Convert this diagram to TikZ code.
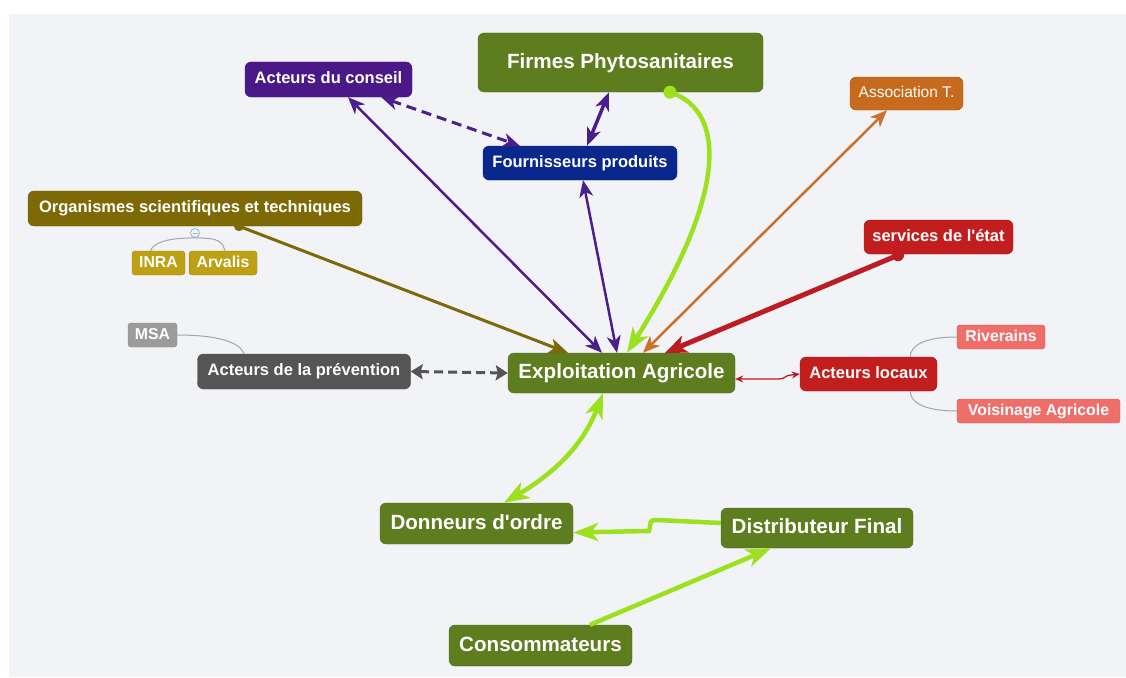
\documentclass[tikz,border=0pt]{standalone}
\usepackage{fontspec}
\setmainfont{Liberation Sans}[Ligatures=TeXOff]
\usetikzlibrary{arrows.meta,calc}
\definecolor{cbg}{HTML}{F2F3F7}
\definecolor{cgreen}{HTML}{5E7D1E}
\definecolor{clime}{HTML}{9BE11E}
\definecolor{cpurple}{HTML}{4B1987}
\definecolor{cpline}{HTML}{4A1E8C}
\definecolor{cnavy}{HTML}{0A288C}
\definecolor{colive}{HTML}{7D6905}
\definecolor{cgold}{HTML}{BEA014}
\definecolor{corange}{HTML}{C86A1E}
\definecolor{cred}{HTML}{C31E1E}
\definecolor{credline}{HTML}{BC1C24}
\definecolor{csalmon}{HTML}{F06E69}
\definecolor{cdgrey}{HTML}{555555}
\definecolor{clgrey}{HTML}{9B9B9B}
\definecolor{cthin}{HTML}{A0A6B2}
\definecolor{ccoll}{HTML}{9AB0D8}
\tikzset{
  box/.style={rectangle, rounded corners=6pt, inner sep=0pt, text=white, align=center},
  big/.style={box, font=\fontsize{20.6}{24}\selectfont\bfseries, text height=15.5pt, text depth=4.5pt},
  med/.style={box, font=\fontsize{16.5}{20}\selectfont\bfseries, text height=12.4pt, text depth=3.6pt},
  small/.style={box, rounded corners=3pt, font=\fontsize{15.8}{19}\selectfont\bfseries, text height=11.8pt, text depth=3.4pt},
  thin/.style={draw=cthin, line width=1pt},
}
\begin{document}
\begin{tikzpicture}[x=1pt,y=-1pt]
\useasboundingbox (0,0) rectangle (1126,677);
\fill[white] (0,0) rectangle (1126,677);
\fill[cbg] (9,14) rectangle (1126,677);

% nodes
\node[big, fill=cgreen, draw=cgreen!85!black, minimum width=285pt, minimum height=59pt] (firmes) at (620.5,62.5) {Firmes Phytosanitaires};
\node[med, fill=cpurple, draw=cpurple!85!black, minimum width=167pt, minimum height=35pt] (conseil) at (328.5,79.5) {Acteurs du conseil};
\node[box, font=\fontsize{15.5}{19}\selectfont, text height=11.6pt, text depth=3.4pt, fill=corange, draw=corange!85!black, minimum width=113pt, minimum height=33pt] (assoc) at (906.5,93.5) {Association T.};
\node[med, fill=cnavy, draw=cnavy!85!black, minimum width=194pt, minimum height=34pt] (four) at (580,163) {Fournisseurs produits};
\node[med, fill=colive, draw=colive!85!black, minimum width=334pt, minimum height=35pt] (org) at (195,208.5) {Organismes scientifiques et techniques};
\node[small, fill=cgold, draw=cgold!85!black, minimum width=53pt, minimum height=24pt] (inra) at (158.5,263) {INRA};
\node[small, fill=cgold, draw=cgold!85!black, minimum width=68pt, minimum height=24pt] (arv) at (223,263) {Arvalis};
\node[med, fill=cred, draw=cred!85!black, minimum width=149pt, minimum height=34pt] (serv) at (938.5,237) {services de l'état};
\node[small, fill=clgrey, draw=clgrey!85!black, minimum width=49pt, minimum height=24pt] (msa) at (152.5,335) {MSA};
\node[med, fill=cdgrey, draw=cdgrey!85!black, minimum width=213pt, minimum height=35pt] (prev) at (304,371.5) {Acteurs de la prévention};
\node[big, fill=cgreen, draw=cgreen!85!black, minimum width=227pt, minimum height=40pt] (expl) at (621.5,373) {Exploitation Agricole};
\node[med, fill=cred, draw=cred!85!black, minimum width=137pt, minimum height=34pt] (loc) at (868.5,374) {Acteurs locaux};
\node[small, fill=csalmon, draw=csalmon!85!black, minimum width=88pt, minimum height=24pt] (riv) at (1001,337) {Riverains};
\node[small, fill=csalmon, draw=csalmon!85!black, minimum width=163pt, minimum height=24pt] (vois) at (1038.5,411) {Voisinage Agricole};
\node[big, fill=cgreen, draw=cgreen!85!black, minimum width=193pt, minimum height=41pt] (don) at (476.5,523.5) {Donneurs d'ordre};
\node[big, fill=cgreen, draw=cgreen!85!black, minimum width=192pt, minimum height=40pt] (dist) at (817,528) {Distributeur Final};
\node[big, fill=cgreen, draw=cgreen!85!black, minimum width=183pt, minimum height=41pt] (cons) at (540.5,645.5) {Consommateurs};

% collapse marker
\node[circle, draw=ccoll, fill=cbg, line width=0.8pt, minimum size=9pt, inner sep=0pt] (col) at (195,233) {};
\draw[ccoll, line width=0.8pt] ($(col.center)+(-2.5,0)$) -- ($(col.center)+(2.5,0)$);

% thin grey links
\draw[thin] ($(inra.north)+(-8,0)$) .. controls +(3,-9) and +(-25,0) .. (col.south);
\draw[thin] (col.south) .. controls +(25,0) and +(-3,-9) .. ($(arv.north)+(2,0)$);
\draw[thin] (msa.east) .. controls +(40,0) and +(-5,-12) .. ($(prev.north west)+(47,0)$);
\draw[thin] (riv.west) .. controls +(-35,0) and +(0,-10) .. ($(loc.north east)+(-27,0)$);
\draw[thin] (vois.west) .. controls +(-35,0) and +(0,10) .. ($(loc.south east)+(-27,0)$);

% purple links
\draw[cpline, line width=2.5pt, {Stealth[length=17pt,width=14pt,inset=5pt]}-{Stealth[length=17pt,width=14pt,inset=5pt]}]
  ($(conseil.south)+(19.5,0)$) -- ($(expl.north)+(-19.5,0)$);
\draw[cpline, line width=3pt, dash pattern=on 10pt off 6pt, {Stealth[length=17pt,width=14pt,inset=5pt]}-{Stealth[length=17pt,width=14pt,inset=5pt]}]
  ($(conseil.south east)+(-31,0)$) -- ($(four.north west)+(37,0)$);
\draw[cpline, line width=3.5pt, {Stealth[length=18pt,width=14pt,inset=5pt]}-{Stealth[length=18pt,width=14pt,inset=5pt]}]
  ($(firmes.south)+(-11.5,0)$) -- ($(four.north)+(7,0)$);
\draw[cpline, line width=2.5pt, {Stealth[length=17pt,width=14pt,inset=5pt]}-{Stealth[length=17pt,width=14pt,inset=5pt]}]
  ($(four.south)+(3,0)$) -- ($(expl.north)+(-4.5,0)$);

% olive link
\coordinate (od) at ($(org.south)+(44,0)$);
\draw[colive, line width=3pt, -{Stealth[length=19pt,width=15pt,inset=5pt]}] (od) -- ($(expl.north)+(-53.5,0)$);
\fill[colive] (od) circle (5);

% orange link
\draw[corange!95!white, line width=2.5pt, {Stealth[length=17pt,width=14pt,inset=5pt]}-{Stealth[length=17pt,width=14pt,inset=5pt]}]
  ($(expl.north)+(21.5,0)$) -- ($(assoc.south)+(-19.5,0)$);

% red link
\coordinate (rd) at ($(serv.south)+(-40.5,1)$);
\draw[credline, line width=5pt, -{Stealth[length=22pt,width=18pt,inset=6pt]}] (rd) -- ($(expl.north)+(43.5,0)$);
\fill[credline] (rd) circle (6);

% lime Firmes -> Exploitation
\coordinate (ld) at ($(firmes.south)+(49.5,0)$);
\draw[clime, line width=4.5pt, -{Stealth[length=25pt,width=18pt,inset=7pt]}] (ld) .. controls (725,110) and (730,190) .. ($(expl.north)+(5.5,0)$);
\fill[clime] (ld) circle (6.5);

% dashed grey
\draw[cdgrey, line width=3pt, dash pattern=on 9pt off 5pt, {Stealth[length=12pt,width=15pt,inset=2pt]}-{Stealth[length=12pt,width=15pt,inset=2pt]}]
  (prev.east) -- (expl.west);

% thin red
\draw[credline, line width=1.3pt, {Stealth[length=8pt,width=7pt]}-{Stealth[length=8pt,width=7pt]}]
  ($(expl.east)+(0,6)$) -- ++(44,0) .. controls +(6,0) and +(-6,0) .. ++(12,-4) -- (loc.west);

% lime lower links
\draw[clime, line width=4.5pt, {Stealth[length=25pt,width=18pt,inset=7pt]}-{Stealth[length=25pt,width=18pt,inset=7pt]}]
  ($(expl.south)+(-18.5,0)$) .. controls +(-18,47) and +(56,-33) .. ($(don.north)+(27.5,0)$);
\draw[clime, line width=4.5pt, -{Stealth[length=25pt,width=18pt,inset=7pt]}]
  ($(dist.west)+(0,-5)$) -- ++(-64,-3) .. controls +(-9,0) and +(3,-8) .. ++(-8,11) -- ($(don.east)+(0,9)$);
\draw[clime, line width=4.5pt, -{Stealth[length=25pt,width=18pt,inset=7pt]}]
  ($(cons.north)+(49.5,0)$) -- ($(dist.south)+(-46,0)$);
\end{tikzpicture}
\end{document}
